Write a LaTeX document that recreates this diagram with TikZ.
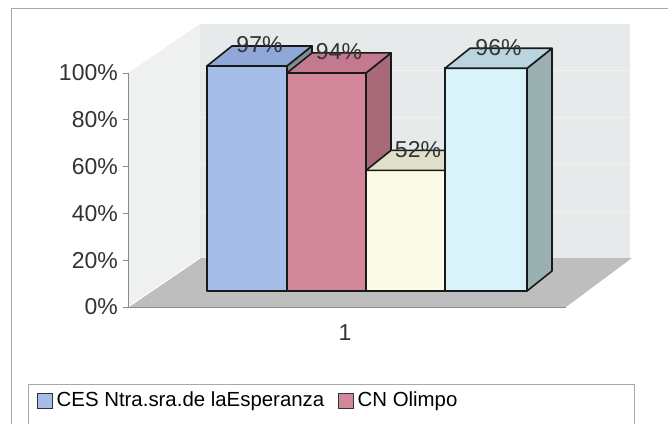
\documentclass[tikz,border=0pt]{standalone}
\usepackage{fontspec}
\setmainfont{Liberation Sans}
\usetikzlibrary{positioning}
\definecolor{wallback}{HTML}{E6EAEA}
\definecolor{wallside}{HTML}{EFF1F0}
\definecolor{floorgray}{HTML}{BEBEBE}
\definecolor{framegray}{HTML}{A8A8A8}
\definecolor{axisgray}{HTML}{8C8C8C}
\definecolor{labelgray}{HTML}{333333}
\definecolor{cesfront}{HTML}{A6BDEA}
\definecolor{cestop}{HTML}{8FA8D8}
\definecolor{cesside}{HTML}{7E8E90}
\definecolor{olifront}{HTML}{D2879B}
\definecolor{olitop}{HTML}{C47A8E}
\definecolor{oliside}{HTML}{A66A78}
\definecolor{thrfront}{HTML}{FAFAE6}
\definecolor{thrtop}{HTML}{E0E0CA}
\definecolor{thrside}{HTML}{B8B8A4}
\definecolor{foufront}{HTML}{D8F3FA}
\definecolor{foutop}{HTML}{B8D5E0}
\definecolor{fouside}{HTML}{9BB0B0}
\tikzset{
  axislabel/.style={font=\fontsize{23}{24}\selectfont, text=labelgray, anchor=east, inner sep=0pt},
  barlabel/.style={font=\fontsize{23}{24}\selectfont, text=labelgray, inner sep=0pt},
  legtext/.style={font=\fontsize{20.4}{22}\selectfont, text=black, anchor=west, inner sep=0pt},
  legkey/.style={draw=black!80, line width=1pt, minimum size=15pt, inner sep=0pt},
  barface/.style={draw=black!90, line width=1.6pt, line join=round}
}
\begin{document}
\begin{tikzpicture}[x=1pt,y=-1pt]
  \useasboundingbox (0,0) rectangle (668,423);
  % frame
  \draw[framegray, line width=1pt] (11,430) -- (11,8) -- (670,8);
  % walls and floor
  \fill[wallback] (200,24) rectangle (630,258);
  \fill[wallside] (128,73) -- (200,24) -- (200,258) -- (128,307) -- cycle;
  \fill[floorgray] (128,307) -- (200,258) -- (632,258) -- (566,307) -- cycle;
  \draw[white, line width=1pt] (128,307) -- (200,258);
  \foreach \g in {70.8,117.6,164.4,211.2}
    \draw[white, opacity=0.4, line width=0.8pt] (200,\g) -- (630,\g);
  % axis
  \draw[axisgray, line width=1pt] (128,73) -- (128,307) -- (566,307);
  \foreach \p [count=\k from 0] in {0\%,20\%,40\%,60\%,80\%,100\%} {
    \draw[axisgray, line width=1pt] (123,307-46.8*\k) -- (128,307-46.8*\k);
    \node[axislabel] (tick\k) at (118,307-46.8*\k) {\p};
  }
  \node[axislabel, anchor=center] (cat1) at (345,333) {1};
  % bars
  \foreach \i/\xa/\xb/\v/\fc/\tc/\sc in {
      1/207/287/97/cesfront/cestop/cesside,
      2/287/366/94/olifront/olitop/oliside,
      3/366/445/52/thrfront/thrtop/thrside,
      4/445/527/96/foufront/foutop/fouside} {
    \pgfmathsetmacro{\t}{291-2.32*\v}
    \draw[barface, fill=\sc] (\xb,\t) -- (\xb+25,\t-20) -- (\xb+25,271) -- (\xb,291) -- cycle;
    \draw[barface, fill=\fc] (\xa,\t) rectangle (\xb,291);
    \draw[barface, fill=\tc] (\xa,\t) -- (\xa+25,\t-20) -- (\xb+25,\t-20) -- (\xb,\t) -- cycle;
    \node[barlabel] (val\i) at ({(\xa+\xb)/2+12.5},\t-21) {\v\%};
  }
  % legend
  \draw[framegray, line width=1pt] (28,430) -- (28,384) -- (634,384) -- (634,430);
  \node[legkey, fill=cesfront] (keyces) at (44.5,401) {};
  \node[legtext, right=4pt of keyces] (txtces) {CES Ntra.sra.de laEsperanza};
  \node[legkey, fill=olifront] (keyoli) at (345.5,401) {};
  \node[legtext, right=4pt of keyoli] (txtoli) {CN Olimpo};
\end{tikzpicture}
\end{document}
